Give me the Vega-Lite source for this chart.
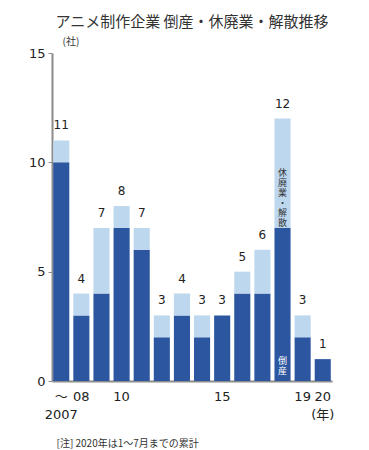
{
  "$schema": "https://vega.github.io/schema/vega-lite/v6.json",
  "width": 280,
  "height": 328,
  "autosize": {"type": "none"},
  "padding": {"left": 52, "top": 53, "right": 37, "bottom": 69},
  "background": "white",
  "config": {
    "font": "DejaVu Sans, Noto Sans CJK JP",
    "view": {"stroke": null}
  },
  "title": {
    "text": "アニメ制作企業 倒産・休廃業・解散推移",
    "font": "Noto Sans CJK JP",
    "fontSize": 15,
    "fontWeight": "normal",
    "color": "#333333",
    "anchor": "middle",
    "offset": 6
  },
  "datasets": {
    "counts": [
      {"yr": "2007", "type": "倒産", "ord": 1, "value": 10},
      {"yr": "2007", "type": "休廃業・解散", "ord": 2, "value": 1},
      {"yr": "08", "type": "倒産", "ord": 1, "value": 3},
      {"yr": "08", "type": "休廃業・解散", "ord": 2, "value": 1},
      {"yr": "09", "type": "倒産", "ord": 1, "value": 4},
      {"yr": "09", "type": "休廃業・解散", "ord": 2, "value": 3},
      {"yr": "10", "type": "倒産", "ord": 1, "value": 7},
      {"yr": "10", "type": "休廃業・解散", "ord": 2, "value": 1},
      {"yr": "11", "type": "倒産", "ord": 1, "value": 6},
      {"yr": "11", "type": "休廃業・解散", "ord": 2, "value": 1},
      {"yr": "12", "type": "倒産", "ord": 1, "value": 2},
      {"yr": "12", "type": "休廃業・解散", "ord": 2, "value": 1},
      {"yr": "13", "type": "倒産", "ord": 1, "value": 3},
      {"yr": "13", "type": "休廃業・解散", "ord": 2, "value": 1},
      {"yr": "14", "type": "倒産", "ord": 1, "value": 2},
      {"yr": "14", "type": "休廃業・解散", "ord": 2, "value": 1},
      {"yr": "15", "type": "倒産", "ord": 1, "value": 3},
      {"yr": "15", "type": "休廃業・解散", "ord": 2, "value": 0},
      {"yr": "16", "type": "倒産", "ord": 1, "value": 4},
      {"yr": "16", "type": "休廃業・解散", "ord": 2, "value": 1},
      {"yr": "17", "type": "倒産", "ord": 1, "value": 4},
      {"yr": "17", "type": "休廃業・解散", "ord": 2, "value": 2},
      {"yr": "18", "type": "倒産", "ord": 1, "value": 7},
      {"yr": "18", "type": "休廃業・解散", "ord": 2, "value": 5},
      {"yr": "19", "type": "倒産", "ord": 1, "value": 2},
      {"yr": "19", "type": "休廃業・解散", "ord": 2, "value": 1},
      {"yr": "20", "type": "倒産", "ord": 1, "value": 1},
      {"yr": "20", "type": "休廃業・解散", "ord": 2, "value": 0}
    ],
    "inner": [
      {"yr": "18", "label": "休\n廃\n業\n・\n解\n散", "pos": 9.7, "kind": "light"},
      {"yr": "18", "label": "倒\n産", "pos": 1.1, "kind": "dark"}
    ]
  },
  "encoding": {
    "x": {
      "field": "yr",
      "type": "ordinal",
      "sort": null,
      "scale": {"paddingInner": 0.2, "paddingOuter": 0.06},
      "axis": {
        "title": "[注] 2020年は1～7月までの累計",
        "titleFont": "Noto Sans CJK JP",
        "titleFontSize": 10,
        "titleFontWeight": "normal",
        "titleColor": "#333333",
        "titleAnchor": "start",
        "titleAlign": "left",
        "titleX": 4,
        "titleY": 57,
        "labelAngle": 0,
        "labelFontSize": 13,
        "labelColor": "#222222",
        "labelPadding": 9,
        "labelLineHeight": 18,
        "labelBaseline": "top",
        "labelExpr": "datum.value == '2007' ? ['～', '2007'] : datum.value == '20' ? ['20', '(年)'] : (indexof(['08','10','15','19'], datum.value) >= 0 ? datum.value : '')",
        "ticks": false,
        "domainColor": "#8c8c8c",
        "domainWidth": 2
      }
    }
  },
  "layer": [
    {
      "data": {"name": "counts"},
      "mark": {"type": "bar"},
      "encoding": {
        "y": {
          "field": "value",
          "type": "quantitative",
          "stack": "zero",
          "scale": {"domain": [0, 15], "nice": false},
          "axis": {
            "values": [0, 5, 10, 15],
            "grid": false,
            "title": "(社)",
            "titleFont": "Noto Sans CJK JP",
            "titleFontSize": 10,
            "titleFontWeight": "normal",
            "titleColor": "#333333",
            "titleAngle": 0,
            "titleAlign": "left",
            "titleBaseline": "bottom",
            "titleX": 10,
            "titleY": -7,
            "labelFontSize": 13,
            "labelColor": "#222222",
            "labelPadding": 3,
            "tickColor": "#8c8c8c",
            "tickSize": 4,
            "domainColor": "#8c8c8c",
            "domainWidth": 2
          }
        },
        "color": {
          "field": "type",
          "type": "nominal",
          "scale": {"domain": ["倒産", "休廃業・解散"], "range": ["#2c569f", "#bdd7ee"]},
          "legend": null
        },
        "order": {"field": "ord", "type": "quantitative"}
      }
    },
    {
      "data": {"name": "counts"},
      "mark": {"type": "text", "baseline": "bottom", "dy": -8, "fontSize": 12, "color": "#222222"},
      "encoding": {
        "y": {"aggregate": "sum", "field": "value", "type": "quantitative"},
        "text": {"aggregate": "sum", "field": "value", "type": "quantitative"}
      }
    },
    {
      "data": {"name": "inner"},
      "mark": {"type": "text", "baseline": "top", "font": "Noto Sans CJK JP", "fontSize": 9, "lineHeight": 10, "lineBreak": "\n"},
      "encoding": {
        "y": {"field": "pos", "type": "quantitative"},
        "text": {"field": "label"},
        "color": {
          "field": "kind",
          "type": "nominal",
          "scale": {"domain": ["light", "dark"], "range": ["#333333", "#ffffff"]},
          "legend": null
        }
      }
    }
  ],
  "resolve": {"scale": {"color": "independent"}}
}
